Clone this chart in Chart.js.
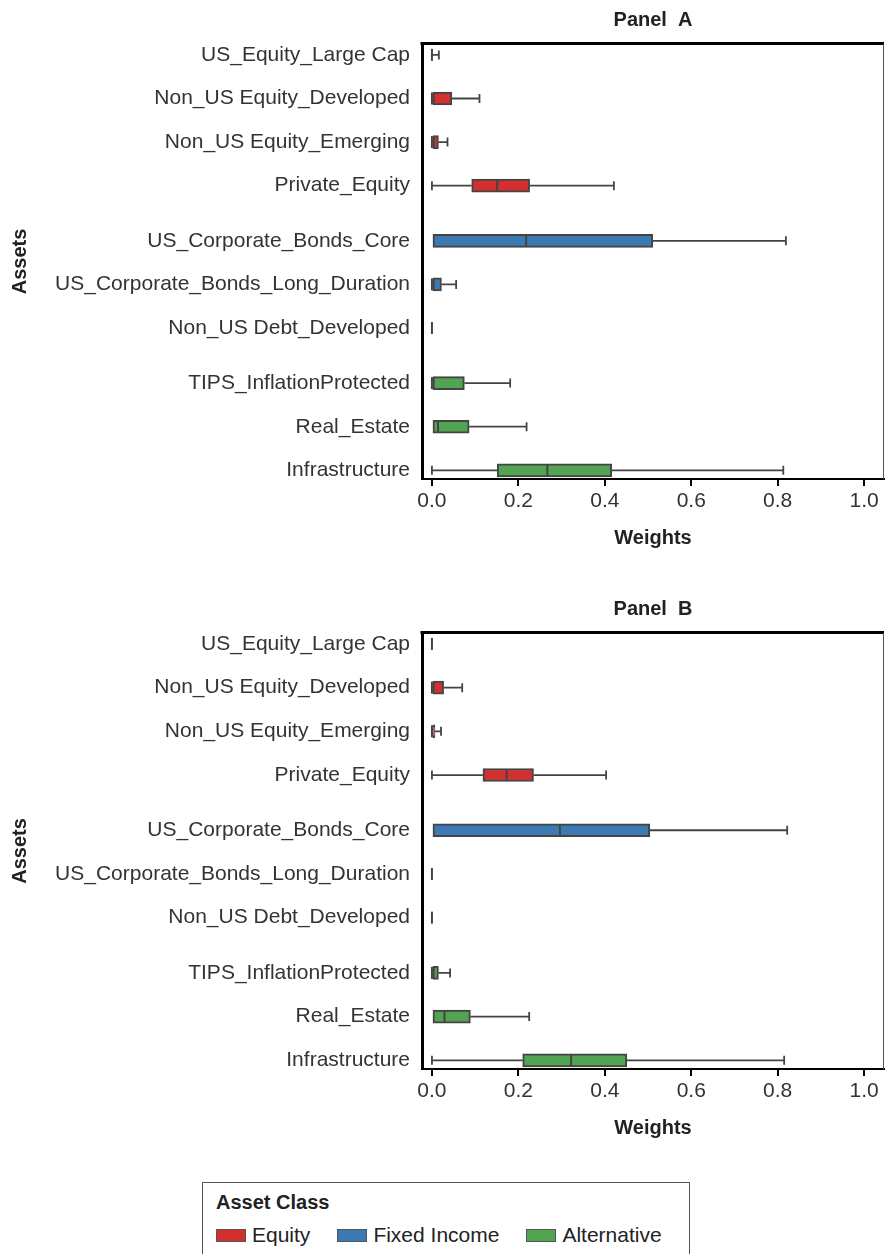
<!DOCTYPE html>
<html>
<head>
<meta charset="utf-8">
<script src="https://cdn.jsdelivr.net/npm/chart.js@4.4.1/dist/chart.umd.min.js"></script>
<style>
  body { margin: 0; background: #fff; font-family: 'Liberation Sans', Arial, sans-serif; }
  .panel { position: absolute; left: 0; }
  #legend {
    position: absolute; left: 202px; top: 1182px; width: 488px; height: 90px;
    border: 1px solid #555; box-sizing: border-box; color: #222;
  }
  #legend .title { position: absolute; left: 13px; top: 8px; font-weight: bold; font-size: 20px; }
  #legend .items { position: absolute; left: 13px; top: 40px; display: flex; font-size: 21px; line-height: 24px; }
  #legend .item { display: flex; align-items: center; margin-right: 27px; }
  #legend .sw { width: 30px; height: 13px; border: 1px solid #555; margin-right: 6px; box-sizing: border-box; }
</style>
</head>
<body>
<canvas id="panelA" class="panel" width="886" height="560" style="top:0"></canvas>
<canvas id="panelB" class="panel" width="886" height="560" style="top:590px"></canvas>
<div id="legend">
  <div class="title">Asset Class</div>
  <div class="items" id="legendItems"></div>
</div>
<script>
const assets = [
  "US_Equity_Large Cap",
  "Non_US Equity_Developed",
  "Non_US Equity_Emerging",
  "Private_Equity",
  "US_Corporate_Bonds_Core",
  "US_Corporate_Bonds_Long_Duration",
  "Non_US Debt_Developed",
  "TIPS_InflationProtected",
  "Real_Estate",
  "Infrastructure",
];
const assetClass = [
  "Equity", "Equity", "Equity", "Equity",
  "Fixed Income", "Fixed Income", "Fixed Income",
  "Alternative", "Alternative", "Alternative",
];
const classes = ["Equity", "Fixed Income", "Alternative"];
const xTicks = [0, 0.2, 0.4, 0.6, 0.8, 1.0];

// Panel A weight distributions
const aMin = [0, 0, 0, 0, 0, 0, 0, 0, 0, 0];
const aQ1 = [0, 0, 0, 0.092, 0, 0, 0, 0, 0, 0.151];
const aMed = [0, 0, 0, 0.151, 0.218, 0, 0, 0, 0.014, 0.267];
const aQ3 = [0, 0.046, 0.015, 0.226, 0.511, 0.022, 0, 0.075, 0.086, 0.416];
const aMax = [0.016, 0.110, 0.036, 0.421, 0.819, 0.056, 0, 0.181, 0.219, 0.813];

// Panel B weight distributions
const bMin = [0, 0, 0, 0, 0, 0, 0, 0, 0, 0];
const bQ1 = [0, 0, 0, 0.118, 0, 0, 0, 0, 0, 0.210];
const bMed = [0, 0, 0, 0.173, 0.296, 0, 0, 0, 0.029, 0.322];
const bQ3 = [0, 0.027, 0.007, 0.235, 0.504, 0, 0, 0.015, 0.089, 0.451];
const bMax = [0, 0.070, 0.021, 0.403, 0.822, 0, 0, 0.042, 0.225, 0.815];

const classColors = { "Equity": "#d42f2f", "Fixed Income": "#3d7ab3", "Alternative": "#52a352" };
const edge = "#444";

// rows are stacked one unit apart, with a small extra gap between asset classes
const groupGap = 0.264;
const rowPos = assets.map((_, i) => i + groupGap * classes.indexOf(assetClass[i]));

Chart.defaults.font.family = "'Liberation Sans', Arial, sans-serif";
Chart.defaults.color = "#333";

const boxPlugin = {
  id: "boxWhiskers",
  beforeDatasetsDraw(chart, args, opts) {
    const { ctx, scales: { x, y } } = chart;
    const s = opts.stats;
    ctx.save();
    ctx.strokeStyle = edge;
    ctx.lineWidth = 1.8;
    rowPos.forEach((p, i) => {
      const yc = y.getPixelForValue(p);
      const cap = 4.5;
      if (s.max[i] > s.q3[i]) {
        ctx.beginPath();
        ctx.moveTo(x.getPixelForValue(s.q3[i]), yc);
        ctx.lineTo(x.getPixelForValue(s.max[i]), yc);
        ctx.moveTo(x.getPixelForValue(s.max[i]), yc - cap);
        ctx.lineTo(x.getPixelForValue(s.max[i]), yc + cap);
        ctx.stroke();
      }
      if (s.min[i] < s.q1[i]) {
        ctx.beginPath();
        ctx.moveTo(x.getPixelForValue(s.min[i]), yc);
        ctx.lineTo(x.getPixelForValue(s.q1[i]), yc);
        ctx.moveTo(x.getPixelForValue(s.min[i]), yc - cap);
        ctx.lineTo(x.getPixelForValue(s.min[i]), yc + cap);
        ctx.stroke();
      }
    });
    ctx.restore();
  },
  afterDatasetsDraw(chart, args, opts) {
    const { ctx, scales: { x, y } } = chart;
    const s = opts.stats;
    ctx.save();
    ctx.strokeStyle = edge;
    ctx.lineWidth = 2;
    rowPos.forEach((p, i) => {
      const yc = y.getPixelForValue(p);
      const xm = x.getPixelForValue(s.med[i]);
      ctx.beginPath();
      ctx.moveTo(xm, yc - 6);
      ctx.lineTo(xm, yc + 6);
      ctx.stroke();
    });
    ctx.restore();
  },
  afterDraw(chart, args, opts) {
    const { ctx, chartArea: a } = chart;
    ctx.save();
    // frame: heavy top edge, thin right edge
    ctx.strokeStyle = "#000";
    ctx.lineWidth = 3;
    ctx.beginPath();
    ctx.moveTo(a.left - 1.5, a.top - 0.5);
    ctx.lineTo(a.right, a.top - 0.5);
    ctx.stroke();
    ctx.strokeStyle = "#555";
    ctx.lineWidth = 1;
    ctx.beginPath();
    ctx.moveTo(a.right - 0.5, a.top);
    ctx.lineTo(a.right - 0.5, a.bottom);
    ctx.stroke();
    // panel title centred over the plot
    ctx.fillStyle = "#222";
    ctx.font = "bold 20px 'Liberation Sans', Arial, sans-serif";
    ctx.textAlign = "center";
    ctx.textBaseline = "middle";
    ctx.fillText(opts.title, (a.left + a.right) / 2, a.top - 24);
    ctx.restore();
  },
};

function makePanel(id, title, topPad, stats) {
  const datasets = classes.map((c) => ({
    label: c,
    data: assets
      .map((_, i) => ({ x: [stats.q1[i], stats.q3[i]], y: rowPos[i], cls: assetClass[i] }))
      .filter((d) => d.cls === c),
    backgroundColor: classColors[c],
    borderColor: edge,
    borderWidth: 2,
    borderSkipped: false,
    barThickness: 13,
    grouped: false,
  }));

  return new Chart(document.getElementById(id), {
    type: "bar",
    data: { datasets },
    options: {
      indexAxis: "y",
      responsive: false,
      animation: false,
      layout: { padding: { top: topPad, right: 2, left: 0, bottom: 0 } },
      plugins: {
        legend: { display: false },
        tooltip: { enabled: false },
        boxWhiskers: { stats, title },
      },
      scales: {
        x: {
          type: "linear",
          min: -0.023,
          max: 1.046,
          afterBuildTicks: (scale) => {
            scale.ticks = xTicks.map((v) => ({ value: v }));
          },
          afterFit: (scale) => {
            scale.height = 81;
          },
          ticks: {
            font: { size: 21 },
            color: "#333",
            padding: 3,
            callback: (v) => Number(v).toFixed(1),
          },
          grid: { display: true, drawOnChartArea: false, tickLength: 7, color: "#000", lineWidth: 2 },
          border: { display: true, color: "#000", width: 2 },
          title: {
            display: true,
            text: "Weights",
            color: "#222",
            font: { size: 20, weight: "bold" },
            padding: { top: 4, bottom: 10 },
          },
        },
        y: {
          type: "linear",
          reverse: true,
          offset: false,
          min: -0.25,
          max: 9.727,
          afterBuildTicks: (scale) => {
            scale.ticks = rowPos.map((v) => ({ value: v }));
          },
          afterFit: (scale) => {
            scale.width = 422;
          },
          ticks: {
            autoSkip: false,
            font: { size: 21 },
            color: "#333",
            padding: 12,
            callback: (v, i) => assets[i],
          },
          grid: { display: false, drawTicks: false, offset: false },
          border: { display: true, color: "#000", width: 3 },
          title: {
            display: true,
            text: "Assets",
            color: "#222",
            font: { size: 20, weight: "bold" },
            padding: { top: 8, bottom: 0 },
          },
        },
      },
    },
    plugins: [boxPlugin],
  });
}

makePanel("panelA", "Panel  A", 44, { min: aMin, q1: aQ1, med: aMed, q3: aQ3, max: aMax });
makePanel("panelB", "Panel  B", 43, { min: bMin, q1: bQ1, med: bMed, q3: bQ3, max: bMax });

const legendItems = document.getElementById("legendItems");
classes.forEach((c) => {
  const item = document.createElement("div");
  item.className = "item";
  item.innerHTML = `<span class="sw" style="background:${classColors[c]}"></span><span>${c}</span>`;
  legendItems.appendChild(item);
});
</script>
</body>
</html>
